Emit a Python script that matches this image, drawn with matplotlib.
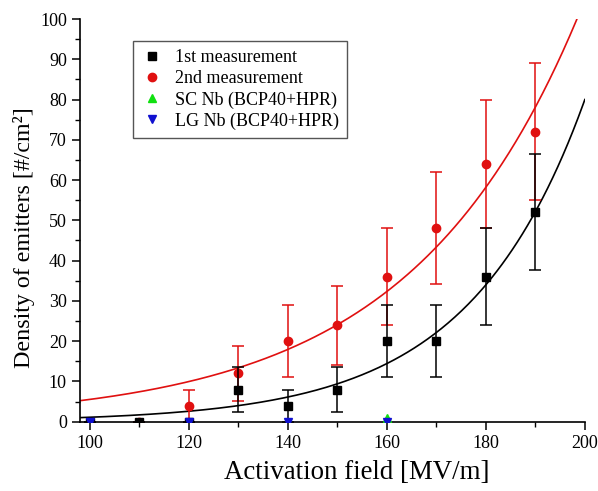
import numpy as np
import matplotlib
matplotlib.use("Agg")
import matplotlib.pyplot as plt
from matplotlib.ticker import MultipleLocator
from matplotlib.lines import Line2D

plt.rcParams['font.family'] = ['Liberation Serif', 'DejaVu Serif']

# data
field_1st = [100, 110, 120, 130, 140, 150, 160, 170, 180, 190]
dens_1st = [0, 0, 0, 8, 4, 8, 20, 20, 36, 52]
err_1st = [0, 0, 0, 5.7, 4, 5.7, 8.9, 8.9, 12, 14.4]

field_2nd = [110, 120, 130, 140, 150, 160, 170, 180, 190]
dens_2nd = [0, 4, 12, 20, 24, 36, 48, 64, 72]
err_2nd = [0, 4, 6.9, 8.9, 9.8, 12, 13.9, 16, 17]

field_sc = [160]
dens_sc = [1]

field_lg = [100, 120, 140, 160]
dens_lg = [0, 0, 0, 0]

legend_labels = ['1st measurement', '2nd measurement', 'SC Nb (BCP40+HPR)', 'LG Nb (BCP40+HPR)']

# exponential fit parameters (value at 200 MV/m, growth rate per MV/m)
fit1_at200, fit1_rate = 80.0, 0.0428
fit2_at200, fit2_rate = 104.8, 0.0294

RED = '#e01010'
GREEN = '#10e010'
BLUE = '#1010d0'

fig = plt.figure(figsize=(5.98, 4.91), dpi=100)
ax = fig.add_axes([0.1338, 0.1411, 0.978 - 0.1338, 0.9613 - 0.1411])

xf = np.linspace(98, 200, 300)
ax.plot(xf, fit1_at200 * np.exp(fit1_rate * (xf - 200)), color='black', lw=1.2, zorder=2)
ax.plot(xf, fit2_at200 * np.exp(fit2_rate * (xf - 200)), color=RED, lw=1.2, zorder=2)

ax.errorbar(field_2nd, dens_2nd, yerr=err_2nd, fmt='o', color=RED, ms=6,
            capsize=4, elinewidth=1.1, capthick=1.1, zorder=3)
ax.errorbar(field_1st, dens_1st, yerr=err_1st, fmt='s', color='black', ms=5.5,
            capsize=4, elinewidth=1.1, capthick=1.1, zorder=4)
ax.plot(field_sc, dens_sc, '^', color=GREEN, ms=6, ls='none', zorder=5)
ax.plot(field_lg, dens_lg, 'v', color=BLUE, ms=6, ls='none', zorder=5)

ax.set_xlim(98, 200)
ax.set_ylim(0, 100)
ax.xaxis.set_major_locator(MultipleLocator(20))
ax.xaxis.set_minor_locator(MultipleLocator(10))
ax.yaxis.set_major_locator(MultipleLocator(10))
ax.yaxis.set_minor_locator(MultipleLocator(5))
ax.spines['top'].set_visible(False)
ax.spines['right'].set_visible(False)
for s in ['left', 'bottom']:
    ax.spines[s].set_linewidth(1.2)
ax.tick_params(which='major', direction='out', length=6, width=1.1, labelsize=13)
ax.tick_params(which='minor', direction='out', length=3.5, width=1.0)

ax.set_xlabel('Activation field [MV/m]', fontsize=19.4)
ax.xaxis.set_label_coords(0.548, -0.095)
ax.set_ylabel('Density of emitters [#/cm²]', fontsize=17.3)
ax.yaxis.set_label_coords(-0.089, 0.456)

leg_handles = [
    Line2D([], [], marker='s', color='black', ls='none', ms=5.5),
    Line2D([], [], marker='o', color=RED, ls='none', ms=6),
    Line2D([], [], marker='^', color=GREEN, ls='none', ms=6),
    Line2D([], [], marker='v', color=BLUE, ls='none', ms=6),
]
leg = ax.legend(leg_handles, legend_labels, loc='upper left',
                bbox_to_anchor=(0.105, 0.945), borderaxespad=0, fontsize=13,
                fancybox=False, edgecolor='#555555', framealpha=1,
                handletextpad=0.65, handlelength=1.2, borderpad=0.45,
                labelspacing=0.22)
leg.get_frame().set_linewidth(1.0)

fig.savefig('out.png', dpi=100)
